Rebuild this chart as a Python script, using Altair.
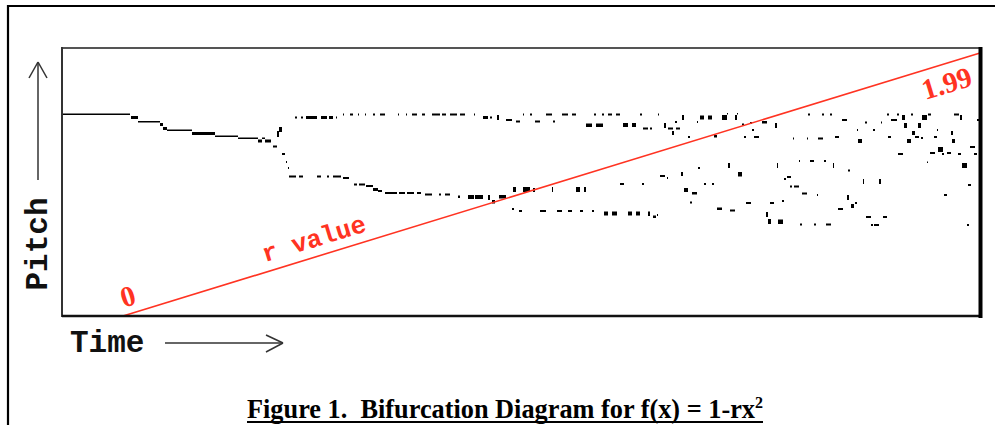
import altair as alt
import pandas as pd

# Bifurcation samples: (time_start, time_end, pitch_low, pitch_high)
stem = [
    (0, 68, 201, 202.5), (69, 76, 197, 200), (76, 98, 193.5, 195), (98, 101, 190, 193),
    (101, 105, 186, 189), (105, 130, 185, 186.5), (130, 153, 181, 184), (153, 176, 179, 180.5),
    (176, 196, 177, 178.5), (196, 200, 173.5, 176.5), (200, 203, 177, 178.5), (203, 209, 173.5, 176.5),
    (211, 215, 168.5, 170.5), (215, 217, 179, 185), (217, 220, 184, 189), (220, 223, 161, 163),
    (224, 225, 153, 155), (226, 227, 147, 149),
]

upper_branch = [
    (233, 235, 197.5, 199.5), (239, 241, 197.5, 199.5), (244, 255, 197, 200), (259, 265, 197, 200),
    (267, 271, 197, 200), (274, 275, 197.5, 199.5), (281, 282, 200.5, 202.5), (288, 291, 200.5, 202.5),
    (296, 297, 200.5, 202.5), (303, 304, 200.5, 202.5), (311, 313, 200.5, 202.5), (318, 323, 200.5, 202.5),
    (336, 337, 200.5, 202.5), (344, 345, 200.5, 202.5), (350, 355, 200.5, 202.5), (360, 363, 200.5, 202.5),
    (370, 378, 200.5, 202.5), (380, 384, 200.5, 202.5), (388, 395, 200.5, 202.5), (398, 403, 200.5, 202.5),
    (412, 413, 200.5, 202.5), (421, 426, 197, 200), (428, 430, 197.5, 199.5), (435, 437, 196, 201),
    (444, 450, 195, 197), (454, 458, 193.5, 195.5), (461, 462, 200.5, 202.5), (468, 470, 200.5, 202.5),
    (484, 490, 200.5, 202.5), (500, 506, 200.5, 202.5), (510, 514, 200.5, 202.5), (532, 534, 200.5, 202.5),
    (540, 542, 200.5, 202.5), (473, 478, 193.5, 195.5), (491, 493, 193.5, 195.5), (524, 530, 189, 192.5),
    (534, 541, 189, 192.5), (546, 550, 200.5, 202.5), (554, 558, 200.5, 202.5), (578, 580, 200.5, 202.5),
    (596, 597, 200.5, 202.5), (561, 566, 189, 193), (570, 574, 189, 193), (581, 586, 186.5, 188.5),
    (588, 590, 186.5, 188.5), (602, 604, 188, 193), (606, 611, 186.5, 188.5), (614, 618, 186.5, 188.5),
    (610, 612, 181, 185), (613, 615, 193, 195), (620, 622, 196, 201), (626, 628, 178, 180),
    (635, 636, 193, 195), (638, 642, 196.5, 200.5), (646, 650, 196.5, 200.5), (652, 655, 178.5, 181),
    (660, 665, 196, 201), (665, 666, 201.5, 203), (673, 675, 196, 201), (675, 676, 201.5, 203),
    (680, 682, 190.5, 192.5), (688, 690, 192, 194), (690, 692, 185, 187), (682, 684, 178, 180),
    (692, 697, 178, 180), (700, 705, 192.5, 195), (713, 715, 188, 193), (731, 732, 176.5, 178.5),
    (745, 746, 176.5, 178.5), (746, 748, 200.5, 202.5), (756, 761, 176.5, 178.5), (760, 762, 200.5, 202.5),
    (768, 770, 200.5, 202.5), (773, 777, 178, 180), (780, 785, 195, 197), (795, 796, 185, 187),
    (796, 800, 173, 177), (803, 805, 192.5, 194.5), (811, 813, 185, 187), (819, 820, 192.5, 194.5),
    (825, 827, 200.5, 202.5), (826, 829, 178, 180), (829, 835, 195, 197), (835, 837, 200.5, 202.5),
    (836, 841, 161, 163), (840, 843, 196, 201), (842, 845, 188, 193), (845, 849, 173, 177),
    (849, 851, 200.5, 202.5), (850, 853, 181, 185), (853, 857, 178, 180), (856, 859, 188, 193),
    (859, 861, 177, 179), (860, 865, 196, 201), (866, 869, 200.5, 202.5), (865, 866, 153, 154.5),
    (868, 873, 162, 164), (872, 875, 178, 180), (875, 876, 185, 187), (876, 881, 164, 169),
    (880, 882, 161, 163), (885, 889, 162, 164), (889, 891, 181, 185), (890, 893, 173, 177),
    (892, 897, 200.5, 202.5), (896, 899, 161, 163), (898, 900, 196, 201), (900, 905, 148, 153),
    (908, 913, 168, 170), (912, 915, 161, 163), (915, 917, 195, 197),
]

lower_branch = [
    (227, 234, 138.5, 140.5), (237, 241, 138.5, 140.5), (255, 259, 138.5, 140.5), (265, 267, 138.5, 140.5),
    (271, 279, 138.5, 140.5), (281, 287, 137, 139), (292, 295, 130.5, 132.5), (297, 303, 130.5, 132.5),
    (304, 311, 129, 131), (311, 316, 125, 128), (316, 320, 124, 126), (323, 335, 122, 124),
    (337, 343, 122, 124), (345, 352, 122, 124), (355, 359, 122, 124), (363, 370, 120.5, 122.5),
    (377, 379, 120.5, 122.5), (383, 388, 120.5, 122.5), (396, 398, 118, 120.5), (406, 412, 117, 121),
    (413, 421, 117, 121), (426, 428, 116, 121), (430, 433, 112.5, 116), (437, 444, 117.5, 121),
    (451, 454, 124, 129), (461, 468, 124, 129), (471, 473, 124, 128), (490, 491, 124, 129),
    (514, 518, 124, 129), (522, 524, 124, 129), (450, 452, 106, 108), (457, 460, 104, 106),
    (478, 484, 104, 106), (495, 500, 104, 106), (506, 510, 104, 106), (518, 521, 104, 106),
    (530, 532, 104, 106), (542, 546, 100.5, 104.5), (550, 555, 100.5, 104.5), (558, 562, 131, 133),
    (566, 570, 100.5, 104.5), (574, 578, 100.5, 104.5), (580, 582, 131, 133), (586, 588, 100, 104.5),
    (591, 594, 98, 100.5), (595, 596, 100, 102), (598, 603, 139, 141), (605, 606, 137, 139),
    (619, 621, 140, 144), (622, 626, 124, 128), (628, 630, 112.5, 114.5), (630, 635, 121.5, 124),
    (636, 638, 147, 149), (642, 644, 131, 133), (650, 652, 131, 133), (655, 660, 106, 108.5),
    (666, 668, 148, 153), (668, 673, 104.5, 106.5), (676, 680, 139.5, 144), (684, 689, 112, 114),
    (704, 706, 99, 104), (706, 709, 92, 97), (708, 712, 112, 114), (715, 716, 148, 153),
    (716, 721, 92, 96.5), (720, 722, 114, 116), (722, 724, 136, 138), (725, 729, 138, 140),
    (728, 730, 128.5, 130.5), (732, 737, 128.5, 130.5), (737, 738, 154, 156), (738, 740, 90.5, 92.5),
    (740, 745, 121.5, 123.5), (748, 752, 154, 156), (752, 754, 90.5, 92.5), (755, 756, 120, 122),
    (762, 764, 154, 156), (764, 769, 90.5, 92.5), (771, 772, 148, 153), (776, 781, 106, 108),
    (785, 787, 116, 121), (786, 788, 144.5, 146.5), (789, 792, 108, 112), (793, 795, 112, 114),
    (801, 802, 132, 137), (804, 809, 98, 100), (809, 811, 90, 92), (812, 817, 90, 92),
    (817, 819, 132, 137), (821, 825, 98, 100), (882, 885, 120, 122), (905, 907, 90, 92),
    (906, 909, 130, 132),
]

# r parameter ramp
r_time = [61, 918]
r_value = [0, 1.99]

W, H = 918, 269

cols = ["t0", "t1", "p0", "p1"]
samples = pd.DataFrame(stem + upper_branch + lower_branch, columns=cols)
ramp = pd.DataFrame({"time": r_time, "r": r_value})

xs = alt.Scale(domain=[0, W], nice=False, zero=False)
ys = alt.Scale(domain=[0, H], nice=False, zero=False)

pts = alt.Chart(samples).mark_rect(color="#000000").encode(
    x=alt.X("t0:Q", scale=xs, axis=None),
    x2="t1:Q",
    y=alt.Y("p0:Q", scale=ys, axis=None),
    y2="p1:Q",
)

rline = alt.Chart(ramp).mark_line(color="#ff3322", strokeWidth=1.6).encode(
    x=alt.X("time:Q", scale=xs, axis=None),
    y=alt.Y("r:Q", scale=alt.Scale(domain=[0, 1.99], range=[269, 6], nice=False, zero=False), axis=None),
)

one = pd.DataFrame({"a": [0]})


def rule(x1, y1, x2, y2, color="#333333", w=1.5):
    return alt.Chart(one).mark_rule(color=color, strokeWidth=w).encode(
        x=alt.value(x1), y=alt.value(y1), x2=alt.value(x2), y2=alt.value(y2)
    )


def label(txt, x, y, **kw):
    return alt.Chart(one).mark_text(text=txt, **kw).encode(x=alt.value(x), y=alt.value(y))


deco = [
    # outer frame
    rule(-54, -42, -54, 380, "#000000", 2.2),
    rule(-55, -41, 935, -41, "#000000", 2.2),
    # plot box
    rule(0, 1, 918, 1, "#555555", 2),
    rule(0, 0, 0, 270, "#333333", 2),
    rule(0, 269, 920, 269, "#111111", 2.5),
    rule(918.5, 0, 918.5, 271, "#000000", 4),
    # pitch arrow
    rule(-24, 16, -24, 133),
    rule(-33, 31, -24, 15),
    rule(-15, 31, -24, 15),
    # time arrow
    rule(103, 296, 221, 296),
    rule(204, 288, 221, 296),
    rule(204, 305, 221, 296),
    # caption underline
    rule(185, 375, 701, 375, "#000000", 2),
]

texts = [
    label("Pitch", -24, 197, font="Courier New, Liberation Mono", fontSize=31, fontWeight="bold",
          angle=270, align="center", baseline="middle", color="#111111"),
    label("Time", 8, 305, font="Courier New, Liberation Mono", fontSize=31, fontWeight="bold",
          align="left", baseline="alphabetic", color="#111111"),
    label("0", 66, 250, font="Liberation Serif", fontSize=29, fontWeight="bold", angle=343,
          align="center", baseline="middle", color="#ff3322"),
    label("r value", 252, 192, font="Courier New, Liberation Mono", fontSize=25.5, fontWeight="bold",
          angle=343, align="center", baseline="middle", color="#ff3322"),
    label("1.99", 885, 37, font="Liberation Serif", fontSize=29, fontWeight="bold", angle=343,
          align="center", baseline="middle", color="#ff3322"),
    label("Figure 1.\u00a0\u00a0Bifurcation Diagram for f(x) = 1-rx", 185, 371, font="Liberation Serif",
          fontSize=26.3, fontWeight="bold", align="left", baseline="alphabetic", color="#000000"),
    label("2", 693, 361, font="Liberation Serif", fontSize=16, fontWeight="bold",
          align="left", baseline="alphabetic", color="#000000"),
]

chart = alt.layer(pts, rline, *deco, *texts).resolve_scale(y="independent").properties(
    width=W, height=H,
    autosize=alt.AutoSizeParams(type="none"),
    padding={"left": 62, "top": 47, "right": 15, "bottom": 109},
    background="white",
).configure_view(stroke=None)

chart.save("out.html", embed_options={"renderer": "svg", "actions": False})
